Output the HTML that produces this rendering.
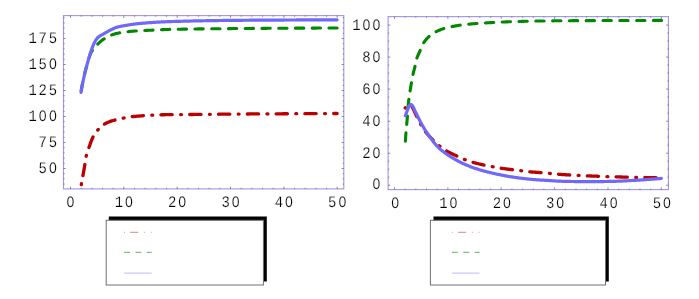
<!DOCTYPE html>
<html><head><meta charset="utf-8"><style>
html,body{margin:0;padding:0;background:#fff;}
body{width:699px;height:299px;overflow:hidden;}
svg{display:block;}
text{font-family:"Liberation Mono",monospace;font-size:16px;fill:#000;stroke:#fff;stroke-width:0.2px;paint-order:fill stroke;}
.lbl{filter:grayscale(1);text-rendering:geometricPrecision;}
</style></head><body>
<svg width="699" height="299" viewBox="0 0 699 299">
<rect width="699" height="299" fill="#fff"/>
<path d="M81.30,184.60 L81.43,183.86 L81.57,183.12 L81.70,182.38 L81.83,181.64 L81.97,180.89 L82.10,180.15 L82.23,179.41 L82.37,178.67 L82.50,177.93 L82.63,177.19 L82.76,176.45 L82.90,175.71 L83.03,174.97 L83.16,174.22 L83.30,173.48 L83.43,172.74 L83.57,172.00 L83.70,171.26 L83.84,170.52 L83.97,169.78 L84.10,169.04 L84.24,168.30 L84.37,167.56 L84.50,166.81 L84.63,166.07 L84.76,165.33 L84.88,164.59 L85.01,163.85 L85.13,163.10 L85.25,162.36 L85.36,161.61 L85.47,160.86 L85.57,160.12 L85.68,159.37 L85.79,158.62 L85.90,157.88 L86.02,157.14 L86.16,156.40 L86.31,155.67 L86.48,154.94 L86.66,154.21 L86.87,153.49 L87.10,152.77 L87.33,152.05 L87.58,151.34 L87.83,150.63 L88.09,149.91 L88.34,149.20 L88.60,148.49 L88.85,147.78 L89.09,147.07 L89.34,146.36 L89.59,145.64 L89.84,144.92 L90.10,144.21 L90.35,143.49 L90.61,142.78 L90.88,142.07 L91.15,141.36 L91.43,140.65 L91.71,139.96 L92.00,139.26 L92.30,138.58 L92.61,137.90 L92.93,137.22 L93.26,136.56 L93.60,135.91 L93.97,135.26 L94.35,134.61 L94.76,133.97 L95.18,133.34 L95.62,132.72 L96.08,132.10 L96.54,131.50 L97.01,130.91 L97.49,130.34 L97.98,129.78 L98.48,129.22 L99.00,128.67 L99.53,128.12 L100.07,127.58 L100.62,127.05 L101.19,126.54 L101.77,126.04 L102.35,125.57 L102.95,125.12 L103.55,124.70 L104.17,124.30 L104.81,123.91 L105.46,123.54 L106.13,123.19 L106.81,122.85 L107.51,122.52 L108.20,122.21 L108.90,121.92 L109.61,121.65 L110.31,121.39 L111.01,121.15 L111.73,120.92 L112.45,120.71 L113.18,120.50 L113.91,120.30 L114.64,120.11 L115.37,119.93 L116.11,119.75 L116.84,119.57 L117.57,119.39 L118.30,119.22 L119.03,119.05 L119.77,118.89 L120.51,118.73 L121.24,118.58 L121.98,118.42 L122.72,118.28 L123.46,118.13 L124.20,117.98 L124.94,117.83 L125.67,117.68 L126.41,117.53 L127.15,117.39 L127.90,117.25 L128.64,117.13 L129.38,117.01 L130.13,116.91 L130.87,116.82 L131.62,116.73 L132.36,116.65 L133.11,116.57 L133.86,116.50 L134.61,116.43 L135.36,116.36 L136.11,116.29 L136.86,116.23 L137.61,116.17 L138.36,116.11 L139.12,116.05 L139.87,115.99 L140.62,115.94 L141.37,115.88 L142.12,115.82 L142.87,115.77 L143.62,115.71 L144.38,115.66 L145.13,115.60 L145.88,115.55 L146.63,115.49 L147.38,115.44 L148.13,115.39 L148.88,115.34 L149.63,115.30 L150.39,115.25 L151.14,115.21 L151.89,115.17 L152.64,115.12 L153.39,115.08 L154.14,115.04 L154.90,115.00 L155.65,114.96 L156.40,114.92 L157.15,114.89 L157.91,114.86 L158.66,114.83 L159.41,114.81 L160.16,114.80 L160.92,114.78 L161.67,114.77 L162.42,114.76 L163.17,114.75 L163.93,114.74 L164.68,114.73 L165.43,114.72 L166.18,114.72 L166.94,114.71 L167.69,114.70 L168.44,114.70 L169.20,114.69 L169.95,114.68 L170.70,114.68 L171.46,114.67 L172.21,114.67 L172.96,114.66 L173.71,114.66 L174.47,114.65 L175.22,114.65 L175.97,114.64 L176.73,114.64 L177.48,114.63 L178.23,114.62 L178.99,114.62 L179.74,114.61 L180.49,114.60 L181.24,114.60 L182.00,114.59 L182.75,114.58 L183.50,114.58 L184.26,114.57 L185.01,114.56 L185.76,114.55 L186.52,114.55 L187.27,114.54 L188.02,114.53 L188.77,114.52 L189.53,114.52 L190.28,114.51 L191.03,114.50 L191.79,114.49 L192.54,114.49 L193.29,114.48 L194.04,114.47 L194.80,114.46 L195.55,114.46 L196.30,114.45 L197.06,114.44 L197.81,114.43 L198.56,114.43 L199.31,114.42 L200.07,114.41 L200.82,114.40 L201.57,114.40 L202.33,114.39 L203.08,114.38 L203.83,114.37 L204.58,114.36 L205.34,114.36 L206.09,114.35 L206.84,114.34 L207.60,114.33 L208.35,114.33 L209.10,114.32 L209.86,114.31 L210.61,114.30 L211.36,114.30 L212.11,114.29 L212.87,114.28 L213.62,114.27 L214.37,114.27 L215.13,114.26 L215.88,114.25 L216.63,114.24 L217.38,114.24 L218.14,114.23 L218.89,114.22 L219.64,114.22 L220.40,114.21 L221.15,114.20 L221.90,114.19 L222.65,114.19 L223.41,114.18 L224.16,114.17 L224.91,114.17 L225.67,114.16 L226.42,114.15 L227.17,114.15 L227.93,114.14 L228.68,114.13 L229.43,114.13 L230.18,114.12 L230.94,114.11 L231.69,114.11 L232.44,114.10 L233.20,114.10 L233.95,114.09 L234.70,114.08 L235.45,114.08 L236.21,114.07 L236.96,114.07 L237.71,114.06 L238.47,114.05 L239.22,114.05 L239.97,114.04 L240.72,114.04 L241.48,114.03 L242.23,114.03 L242.98,114.02 L243.74,114.02 L244.49,114.01 L245.24,114.00 L246.00,114.00 L246.75,113.99 L247.50,113.99 L248.25,113.98 L249.01,113.98 L249.76,113.97 L250.51,113.97 L251.27,113.96 L252.02,113.96 L252.77,113.95 L253.52,113.95 L254.28,113.94 L255.03,113.94 L255.78,113.93 L256.54,113.93 L257.29,113.92 L258.04,113.92 L258.79,113.91 L259.55,113.91 L260.30,113.90 L261.05,113.90 L261.81,113.90 L262.56,113.89 L263.31,113.89 L264.07,113.88 L264.82,113.88 L265.57,113.87 L266.32,113.87 L267.08,113.86 L267.83,113.86 L268.58,113.85 L269.34,113.85 L270.09,113.84 L270.84,113.84 L271.59,113.84 L272.35,113.83 L273.10,113.83 L273.85,113.82 L274.61,113.82 L275.36,113.81 L276.11,113.81 L276.87,113.81 L277.62,113.80 L278.37,113.80 L279.12,113.79 L279.88,113.79 L280.63,113.78 L281.38,113.78 L282.14,113.78 L282.89,113.77 L283.64,113.77 L284.39,113.76 L285.15,113.76 L285.90,113.75 L286.65,113.75 L287.41,113.75 L288.16,113.74 L288.91,113.74 L289.67,113.73 L290.42,113.73 L291.17,113.73 L291.92,113.72 L292.68,113.72 L293.43,113.71 L294.18,113.71 L294.94,113.71 L295.69,113.70 L296.44,113.70 L297.19,113.69 L297.95,113.69 L298.70,113.69 L299.45,113.68 L300.21,113.68 L300.96,113.67 L301.71,113.67 L302.46,113.67 L303.22,113.66 L303.97,113.66 L304.72,113.65 L305.48,113.65 L306.23,113.65 L306.98,113.64 L307.74,113.64 L308.49,113.63 L309.24,113.63 L309.99,113.63 L310.75,113.62 L311.50,113.62 L312.25,113.62 L313.01,113.61 L313.76,113.61 L314.51,113.60 L315.26,113.60 L316.02,113.60 L316.77,113.59 L317.52,113.59 L318.28,113.59 L319.03,113.58 L319.78,113.58 L320.54,113.58 L321.29,113.57 L322.04,113.57 L322.79,113.56 L323.55,113.56 L324.30,113.56 L325.05,113.55 L325.81,113.55 L326.56,113.55 L327.31,113.54 L328.06,113.54 L328.82,113.54 L329.57,113.53 L330.32,113.53 L331.08,113.53 L331.83,113.52 L332.58,113.52 L333.34,113.52 L334.09,113.51 L334.84,113.51 L335.59,113.51 L336.35,113.50 L337.10,113.50" fill="none" stroke="#bb0000" stroke-width="3.3" stroke-linecap="round" stroke-linejoin="round" stroke-dasharray="0.9 8.2 11.3 8.4" stroke-dashoffset="0"/>
<path d="M80.80,93.00 L80.91,92.27 L81.03,91.54 L81.14,90.80 L81.26,90.07 L81.39,89.34 L81.51,88.61 L81.64,87.88 L81.77,87.15 L81.90,86.43 L82.04,85.70 L82.18,84.97 L82.32,84.24 L82.46,83.52 L82.60,82.79 L82.75,82.07 L82.90,81.34 L83.05,80.62 L83.20,79.90 L83.35,79.17 L83.51,78.45 L83.67,77.73 L83.83,77.01 L84.00,76.29 L84.17,75.57 L84.34,74.85 L84.52,74.13 L84.70,73.41 L84.88,72.70 L85.06,71.98 L85.25,71.26 L85.44,70.55 L85.63,69.83 L85.83,69.12 L86.02,68.40 L86.22,67.69 L86.42,66.98 L86.62,66.26 L86.82,65.55 L87.03,64.84 L87.23,64.13 L87.44,63.42 L87.64,62.71 L87.84,61.99 L88.04,61.28 L88.24,60.56 L88.45,59.84 L88.65,59.12 L88.86,58.40 L89.07,57.69 L89.30,56.98 L89.53,56.28 L89.77,55.58 L90.03,54.89 L90.30,54.22 L90.58,53.55 L90.89,52.89 L91.25,52.24 L91.63,51.60 L92.04,50.97 L92.46,50.36 L92.87,49.75 L93.30,49.15 L93.75,48.56 L94.20,47.97 L94.67,47.39 L95.15,46.82 L95.64,46.26 L96.13,45.71 L96.64,45.17 L97.15,44.65 L97.67,44.12 L98.20,43.60 L98.73,43.09 L99.28,42.58 L99.84,42.08 L100.40,41.59 L100.98,41.11 L101.56,40.65 L102.14,40.20 L102.73,39.76 L103.33,39.35 L103.94,38.94 L104.56,38.54 L105.19,38.14 L105.82,37.75 L106.47,37.37 L107.12,37.00 L107.78,36.65 L108.45,36.31 L109.12,35.99 L109.79,35.69 L110.47,35.40 L111.15,35.15 L111.84,34.90 L112.53,34.66 L113.23,34.43 L113.94,34.21 L114.65,34.00 L115.37,33.80 L116.09,33.60 L116.81,33.42 L117.54,33.25 L118.26,33.08 L118.99,32.93 L119.72,32.79 L120.44,32.66 L121.17,32.54 L121.90,32.42 L122.63,32.32 L123.37,32.22 L124.10,32.12 L124.84,32.03 L125.57,31.95 L126.31,31.87 L127.04,31.78 L127.78,31.70 L128.52,31.63 L129.25,31.55 L129.99,31.48 L130.72,31.40 L131.46,31.33 L132.20,31.27 L132.94,31.20 L133.67,31.14 L134.41,31.08 L135.15,31.02 L135.89,30.97 L136.63,30.92 L137.36,30.87 L138.10,30.83 L138.84,30.78 L139.58,30.74 L140.32,30.70 L141.06,30.66 L141.79,30.62 L142.53,30.59 L143.27,30.55 L144.01,30.52 L144.75,30.48 L145.49,30.45 L146.23,30.42 L146.97,30.39 L147.71,30.35 L148.45,30.32 L149.19,30.29 L149.93,30.26 L150.67,30.23 L151.41,30.20 L152.14,30.16 L152.88,30.13 L153.62,30.10 L154.36,30.07 L155.10,30.03 L155.84,30.00 L156.58,29.96 L157.32,29.92 L158.06,29.89 L158.80,29.85 L159.54,29.81 L160.28,29.78 L161.01,29.74 L161.75,29.71 L162.49,29.67 L163.23,29.64 L163.97,29.61 L164.71,29.57 L165.45,29.54 L166.19,29.52 L166.93,29.49 L167.67,29.46 L168.41,29.44 L169.15,29.42 L169.89,29.40 L170.63,29.39 L171.37,29.37 L172.10,29.35 L172.84,29.34 L173.58,29.32 L174.32,29.31 L175.06,29.29 L175.80,29.28 L176.54,29.26 L177.28,29.25 L178.02,29.23 L178.76,29.22 L179.50,29.20 L180.24,29.19 L180.98,29.18 L181.72,29.16 L182.46,29.15 L183.20,29.14 L183.94,29.12 L184.68,29.11 L185.42,29.10 L186.16,29.09 L186.90,29.08 L187.64,29.06 L188.38,29.05 L189.12,29.04 L189.86,29.03 L190.60,29.02 L191.34,29.01 L192.08,29.00 L192.82,28.99 L193.56,28.98 L194.30,28.97 L195.04,28.96 L195.78,28.95 L196.52,28.94 L197.26,28.93 L198.00,28.92 L198.74,28.91 L199.48,28.90 L200.22,28.89 L200.96,28.88 L201.70,28.87 L202.44,28.86 L203.18,28.85 L203.92,28.84 L204.66,28.84 L205.40,28.83 L206.14,28.82 L206.88,28.81 L207.62,28.80 L208.36,28.80 L209.10,28.79 L209.84,28.78 L210.58,28.77 L211.32,28.76 L212.06,28.76 L212.80,28.75 L213.54,28.74 L214.28,28.74 L215.02,28.73 L215.76,28.72 L216.50,28.71 L217.24,28.71 L217.98,28.70 L218.72,28.69 L219.46,28.69 L220.20,28.68 L220.94,28.67 L221.68,28.67 L222.42,28.66 L223.15,28.65 L223.89,28.65 L224.63,28.64 L225.37,28.63 L226.11,28.63 L226.85,28.62 L227.59,28.61 L228.33,28.61 L229.07,28.60 L229.81,28.59 L230.55,28.59 L231.29,28.58 L232.03,28.57 L232.77,28.57 L233.51,28.56 L234.25,28.55 L234.99,28.55 L235.73,28.54 L236.47,28.54 L237.21,28.53 L237.95,28.52 L238.69,28.52 L239.43,28.51 L240.17,28.51 L240.91,28.50 L241.65,28.50 L242.39,28.49 L243.13,28.48 L243.87,28.48 L244.61,28.47 L245.35,28.47 L246.09,28.46 L246.83,28.46 L247.57,28.45 L248.31,28.45 L249.05,28.44 L249.79,28.44 L250.53,28.43 L251.27,28.43 L252.01,28.42 L252.75,28.42 L253.49,28.41 L254.23,28.41 L254.97,28.40 L255.71,28.40 L256.45,28.39 L257.19,28.39 L257.93,28.38 L258.67,28.38 L259.41,28.37 L260.15,28.37 L260.89,28.36 L261.63,28.36 L262.37,28.35 L263.11,28.35 L263.85,28.34 L264.59,28.34 L265.33,28.34 L266.07,28.33 L266.81,28.33 L267.55,28.32 L268.29,28.32 L269.03,28.31 L269.77,28.31 L270.51,28.30 L271.25,28.30 L271.99,28.30 L272.73,28.29 L273.47,28.29 L274.21,28.28 L274.95,28.28 L275.69,28.28 L276.43,28.27 L277.17,28.27 L277.91,28.26 L278.65,28.26 L279.39,28.26 L280.13,28.25 L280.87,28.25 L281.61,28.24 L282.35,28.24 L283.09,28.24 L283.83,28.23 L284.57,28.23 L285.31,28.22 L286.05,28.22 L286.79,28.22 L287.53,28.21 L288.27,28.21 L289.01,28.21 L289.75,28.20 L290.49,28.20 L291.23,28.19 L291.97,28.19 L292.71,28.19 L293.45,28.18 L294.19,28.18 L294.93,28.18 L295.67,28.17 L296.41,28.17 L297.14,28.16 L297.88,28.16 L298.62,28.16 L299.36,28.15 L300.10,28.15 L300.84,28.15 L301.58,28.14 L302.32,28.14 L303.06,28.14 L303.80,28.13 L304.54,28.13 L305.28,28.13 L306.02,28.12 L306.76,28.12 L307.50,28.12 L308.24,28.11 L308.98,28.11 L309.72,28.11 L310.46,28.10 L311.20,28.10 L311.94,28.10 L312.68,28.09 L313.42,28.09 L314.16,28.09 L314.90,28.08 L315.64,28.08 L316.38,28.08 L317.12,28.07 L317.86,28.07 L318.60,28.07 L319.34,28.06 L320.08,28.06 L320.82,28.06 L321.56,28.06 L322.30,28.05 L323.04,28.05 L323.78,28.05 L324.52,28.04 L325.26,28.04 L326.00,28.04 L326.74,28.04 L327.48,28.03 L328.22,28.03 L328.96,28.03 L329.70,28.03 L330.44,28.02 L331.18,28.02 L331.92,28.02 L332.66,28.01 L333.40,28.01 L334.14,28.01 L334.88,28.01 L335.62,28.00 L336.36,28.00 L337.10,28.00" fill="none" stroke="#008800" stroke-width="3.1" stroke-linecap="round" stroke-linejoin="round" stroke-dasharray="8.3 8.45" stroke-dashoffset="-2.4"/>
<path d="M81.05,92.30 L81.17,91.56 L81.29,90.81 L81.42,90.07 L81.54,89.33 L81.67,88.59 L81.81,87.85 L81.94,87.11 L82.08,86.37 L82.21,85.63 L82.35,84.89 L82.50,84.15 L82.64,83.41 L82.79,82.68 L82.93,81.94 L83.08,81.20 L83.24,80.47 L83.39,79.73 L83.54,79.00 L83.70,78.26 L83.86,77.53 L84.02,76.79 L84.19,76.06 L84.35,75.33 L84.52,74.60 L84.70,73.87 L84.87,73.13 L85.05,72.40 L85.23,71.67 L85.41,70.94 L85.60,70.21 L85.78,69.49 L85.97,68.76 L86.16,68.03 L86.35,67.30 L86.55,66.57 L86.74,65.85 L86.94,65.12 L87.14,64.40 L87.33,63.67 L87.53,62.95 L87.73,62.22 L87.93,61.50 L88.13,60.77 L88.33,60.05 L88.54,59.32 L88.74,58.60 L88.95,57.87 L89.15,57.15 L89.37,56.42 L89.58,55.70 L89.80,54.98 L90.02,54.26 L90.24,53.54 L90.47,52.83 L90.71,52.12 L90.95,51.40 L91.19,50.70 L91.44,49.99 L91.69,49.28 L91.95,48.57 L92.21,47.86 L92.48,47.15 L92.76,46.45 L93.04,45.74 L93.33,45.04 L93.63,44.35 L93.94,43.66 L94.27,42.99 L94.60,42.32 L94.95,41.67 L95.31,41.02 L95.70,40.37 L96.12,39.73 L96.56,39.09 L97.02,38.48 L97.51,37.91 L98.01,37.38 L98.54,36.90 L99.12,36.46 L99.74,36.05 L100.39,35.66 L101.06,35.29 L101.74,34.92 L102.42,34.56 L103.09,34.19 L103.74,33.82 L104.39,33.44 L105.04,33.05 L105.69,32.67 L106.34,32.29 L106.99,31.91 L107.64,31.54 L108.30,31.17 L108.96,30.80 L109.62,30.45 L110.29,30.10 L110.96,29.76 L111.63,29.44 L112.31,29.11 L112.99,28.79 L113.68,28.47 L114.37,28.17 L115.07,27.88 L115.77,27.61 L116.48,27.36 L117.19,27.15 L117.91,26.95 L118.64,26.77 L119.37,26.60 L120.11,26.44 L120.85,26.29 L121.59,26.15 L122.33,26.01 L123.07,25.88 L123.81,25.74 L124.55,25.61 L125.29,25.48 L126.03,25.35 L126.77,25.23 L127.52,25.11 L128.26,24.98 L129.00,24.87 L129.74,24.75 L130.49,24.64 L131.23,24.53 L131.98,24.42 L132.72,24.32 L133.47,24.21 L134.21,24.12 L134.96,24.02 L135.71,23.93 L136.45,23.85 L137.20,23.77 L137.95,23.69 L138.69,23.61 L139.44,23.53 L140.19,23.46 L140.94,23.39 L141.68,23.32 L142.43,23.25 L143.18,23.18 L143.93,23.11 L144.68,23.05 L145.43,22.99 L146.18,22.93 L146.93,22.87 L147.68,22.81 L148.43,22.75 L149.18,22.70 L149.93,22.64 L150.68,22.59 L151.43,22.54 L152.18,22.49 L152.93,22.44 L153.68,22.39 L154.43,22.35 L155.18,22.30 L155.93,22.26 L156.68,22.22 L157.43,22.17 L158.19,22.13 L158.94,22.09 L159.69,22.05 L160.44,22.01 L161.19,21.97 L161.94,21.93 L162.69,21.89 L163.44,21.86 L164.19,21.82 L164.95,21.79 L165.70,21.76 L166.45,21.73 L167.20,21.70 L167.95,21.67 L168.70,21.64 L169.45,21.62 L170.20,21.59 L170.96,21.57 L171.71,21.55 L172.46,21.52 L173.21,21.50 L173.96,21.48 L174.71,21.46 L175.46,21.44 L176.21,21.41 L176.97,21.39 L177.72,21.37 L178.47,21.35 L179.22,21.33 L179.97,21.31 L180.72,21.29 L181.47,21.27 L182.23,21.25 L182.98,21.23 L183.73,21.21 L184.48,21.19 L185.23,21.17 L185.98,21.15 L186.74,21.13 L187.49,21.11 L188.24,21.09 L188.99,21.08 L189.74,21.06 L190.49,21.04 L191.25,21.02 L192.00,21.01 L192.75,20.99 L193.50,20.97 L194.25,20.96 L195.00,20.94 L195.76,20.92 L196.51,20.91 L197.26,20.89 L198.01,20.87 L198.76,20.86 L199.52,20.84 L200.27,20.83 L201.02,20.81 L201.77,20.80 L202.52,20.78 L203.27,20.77 L204.03,20.76 L204.78,20.74 L205.53,20.73 L206.28,20.71 L207.03,20.70 L207.78,20.69 L208.54,20.68 L209.29,20.66 L210.04,20.65 L210.79,20.64 L211.54,20.63 L212.30,20.61 L213.05,20.60 L213.80,20.59 L214.55,20.58 L215.30,20.57 L216.06,20.56 L216.81,20.55 L217.56,20.54 L218.31,20.53 L219.06,20.52 L219.81,20.51 L220.57,20.50 L221.32,20.49 L222.07,20.48 L222.82,20.47 L223.57,20.46 L224.33,20.45 L225.08,20.44 L225.83,20.43 L226.58,20.43 L227.33,20.42 L228.08,20.41 L228.84,20.40 L229.59,20.39 L230.34,20.39 L231.09,20.38 L231.84,20.37 L232.59,20.37 L233.35,20.36 L234.10,20.35 L234.85,20.34 L235.60,20.34 L236.35,20.33 L237.11,20.32 L237.86,20.32 L238.61,20.31 L239.36,20.30 L240.11,20.30 L240.86,20.29 L241.62,20.29 L242.37,20.28 L243.12,20.27 L243.87,20.27 L244.62,20.26 L245.38,20.26 L246.13,20.25 L246.88,20.24 L247.63,20.24 L248.38,20.23 L249.13,20.23 L249.89,20.22 L250.64,20.22 L251.39,20.21 L252.14,20.21 L252.89,20.20 L253.65,20.19 L254.40,20.19 L255.15,20.18 L255.90,20.18 L256.65,20.17 L257.40,20.17 L258.16,20.16 L258.91,20.16 L259.66,20.16 L260.41,20.15 L261.16,20.15 L261.92,20.14 L262.67,20.14 L263.42,20.13 L264.17,20.13 L264.92,20.12 L265.67,20.12 L266.43,20.11 L267.18,20.11 L267.93,20.11 L268.68,20.10 L269.43,20.10 L270.19,20.09 L270.94,20.09 L271.69,20.09 L272.44,20.08 L273.19,20.08 L273.95,20.07 L274.70,20.07 L275.45,20.07 L276.20,20.06 L276.95,20.06 L277.70,20.06 L278.46,20.05 L279.21,20.05 L279.96,20.04 L280.71,20.04 L281.46,20.04 L282.22,20.03 L282.97,20.03 L283.72,20.03 L284.47,20.02 L285.22,20.02 L285.97,20.02 L286.73,20.01 L287.48,20.01 L288.23,20.01 L288.98,20.00 L289.73,20.00 L290.49,20.00 L291.24,19.99 L291.99,19.99 L292.74,19.99 L293.49,19.99 L294.25,19.98 L295.00,19.98 L295.75,19.98 L296.50,19.97 L297.25,19.97 L298.00,19.97 L298.76,19.96 L299.51,19.96 L300.26,19.96 L301.01,19.96 L301.76,19.95 L302.52,19.95 L303.27,19.95 L304.02,19.94 L304.77,19.94 L305.52,19.94 L306.27,19.94 L307.03,19.93 L307.78,19.93 L308.53,19.93 L309.28,19.92 L310.03,19.92 L310.79,19.92 L311.54,19.92 L312.29,19.91 L313.04,19.91 L313.79,19.91 L314.54,19.91 L315.30,19.90 L316.05,19.90 L316.80,19.90 L317.55,19.90 L318.30,19.90 L319.06,19.89 L319.81,19.89 L320.56,19.89 L321.31,19.89 L322.06,19.88 L322.81,19.88 L323.57,19.88 L324.32,19.88 L325.07,19.88 L325.82,19.87 L326.57,19.87 L327.33,19.87 L328.08,19.87 L328.83,19.87 L329.58,19.87 L330.33,19.86 L331.09,19.86 L331.84,19.86 L332.59,19.86 L333.34,19.86 L334.09,19.86 L334.84,19.85 L335.60,19.85 L336.35,19.85 L337.10,19.85" fill="none" stroke="#7068f8" stroke-width="3.2" stroke-linecap="round" stroke-linejoin="round"/>
<path d="M405.20,108.00 L405.65,107.35 L406.15,106.77 L406.68,106.27 L407.24,105.86 L407.83,105.56 L408.48,105.35 L409.23,105.17 L409.96,105.04 L410.58,105.00 L411.09,105.27 L411.55,105.84 L411.98,106.56 L412.37,107.27 L412.73,107.88 L413.07,108.50 L413.38,109.13 L413.68,109.78 L413.97,110.44 L414.25,111.10 L414.54,111.76 L414.83,112.41 L415.13,113.06 L415.43,113.70 L415.74,114.34 L416.04,114.99 L416.35,115.63 L416.65,116.28 L416.95,116.92 L417.26,117.57 L417.56,118.21 L417.87,118.85 L418.18,119.49 L418.50,120.13 L418.81,120.77 L419.14,121.40 L419.47,122.03 L419.80,122.65 L420.14,123.27 L420.49,123.89 L420.84,124.51 L421.19,125.13 L421.55,125.75 L421.92,126.36 L422.29,126.98 L422.66,127.58 L423.04,128.19 L423.43,128.79 L423.82,129.38 L424.22,129.97 L424.63,130.55 L425.04,131.12 L425.46,131.69 L425.90,132.25 L426.34,132.80 L426.79,133.35 L427.25,133.89 L427.72,134.43 L428.19,134.97 L428.67,135.50 L429.15,136.03 L429.64,136.55 L430.13,137.07 L430.61,137.59 L431.10,138.10 L431.59,138.62 L432.09,139.13 L432.58,139.64 L433.08,140.15 L433.59,140.65 L434.09,141.15 L434.60,141.65 L435.12,142.15 L435.64,142.64 L436.16,143.12 L436.68,143.60 L437.21,144.08 L437.75,144.54 L438.29,145.00 L438.83,145.46 L439.38,145.91 L439.93,146.36 L440.49,146.81 L441.05,147.25 L441.62,147.69 L442.19,148.12 L442.77,148.54 L443.35,148.95 L443.94,149.35 L444.53,149.74 L445.12,150.11 L445.73,150.48 L446.33,150.84 L446.95,151.19 L447.57,151.53 L448.20,151.86 L448.83,152.19 L449.46,152.52 L450.10,152.84 L450.74,153.15 L451.38,153.46 L452.03,153.77 L452.67,154.08 L453.32,154.39 L453.97,154.69 L454.61,154.99 L455.26,155.30 L455.90,155.60 L456.54,155.91 L457.18,156.22 L457.83,156.53 L458.47,156.83 L459.11,157.14 L459.76,157.44 L460.40,157.74 L461.05,158.04 L461.70,158.33 L462.35,158.61 L463.01,158.89 L463.66,159.17 L464.32,159.43 L464.98,159.69 L465.65,159.94 L466.31,160.19 L466.98,160.43 L467.65,160.67 L468.33,160.90 L469.00,161.13 L469.68,161.35 L470.36,161.57 L471.04,161.78 L471.72,161.99 L472.40,162.19 L473.08,162.38 L473.76,162.57 L474.45,162.76 L475.14,162.95 L475.83,163.13 L476.51,163.31 L477.20,163.48 L477.90,163.65 L478.59,163.82 L479.28,163.99 L479.97,164.15 L480.67,164.32 L481.36,164.47 L482.06,164.63 L482.75,164.79 L483.45,164.94 L484.14,165.09 L484.84,165.23 L485.53,165.38 L486.23,165.52 L486.93,165.65 L487.63,165.78 L488.33,165.91 L489.03,166.04 L489.73,166.17 L490.43,166.30 L491.13,166.43 L491.83,166.56 L492.53,166.69 L493.23,166.82 L493.92,166.95 L494.62,167.09 L495.32,167.22 L496.02,167.36 L496.72,167.49 L497.42,167.62 L498.12,167.75 L498.82,167.87 L499.52,167.99 L500.22,168.10 L500.92,168.21 L501.63,168.32 L502.33,168.42 L503.04,168.52 L503.74,168.62 L504.45,168.71 L505.15,168.80 L505.86,168.90 L506.56,168.99 L507.27,169.08 L507.97,169.16 L508.68,169.25 L509.39,169.34 L510.09,169.43 L510.80,169.51 L511.51,169.60 L512.21,169.69 L512.92,169.78 L513.62,169.86 L514.33,169.95 L515.04,170.03 L515.74,170.11 L516.45,170.20 L517.16,170.28 L517.86,170.36 L518.57,170.45 L519.28,170.53 L519.98,170.61 L520.69,170.70 L521.39,170.79 L522.10,170.88 L522.81,170.97 L523.51,171.07 L524.22,171.16 L524.92,171.25 L525.63,171.34 L526.33,171.43 L527.04,171.52 L527.75,171.60 L528.45,171.68 L529.16,171.74 L529.87,171.81 L530.58,171.87 L531.29,171.93 L531.99,171.99 L532.70,172.05 L533.41,172.10 L534.12,172.16 L534.83,172.21 L535.54,172.26 L536.25,172.31 L536.96,172.36 L537.67,172.41 L538.38,172.47 L539.09,172.52 L539.80,172.57 L540.51,172.63 L541.22,172.69 L541.93,172.74 L542.64,172.80 L543.35,172.86 L544.05,172.92 L544.76,172.99 L545.47,173.05 L546.18,173.11 L546.89,173.17 L547.60,173.24 L548.31,173.30 L549.01,173.36 L549.72,173.43 L550.43,173.50 L551.14,173.57 L551.85,173.64 L552.55,173.72 L553.26,173.79 L553.97,173.86 L554.68,173.93 L555.39,174.00 L556.09,174.07 L556.80,174.13 L557.51,174.19 L558.22,174.25 L558.93,174.30 L559.64,174.35 L560.35,174.41 L561.06,174.46 L561.77,174.50 L562.48,174.55 L563.19,174.60 L563.90,174.64 L564.61,174.69 L565.32,174.73 L566.03,174.77 L566.74,174.81 L567.45,174.86 L568.16,174.90 L568.87,174.94 L569.58,174.98 L570.29,175.02 L571.00,175.05 L571.71,175.09 L572.42,175.13 L573.13,175.16 L573.84,175.20 L574.55,175.23 L575.26,175.26 L575.97,175.30 L576.69,175.33 L577.40,175.37 L578.11,175.40 L578.82,175.44 L579.53,175.47 L580.24,175.51 L580.95,175.55 L581.66,175.58 L582.37,175.62 L583.08,175.66 L583.79,175.69 L584.50,175.73 L585.21,175.76 L585.92,175.79 L586.63,175.82 L587.34,175.85 L588.05,175.88 L588.77,175.91 L589.48,175.94 L590.19,175.97 L590.90,176.00 L591.61,176.02 L592.32,176.05 L593.03,176.08 L593.74,176.10 L594.45,176.13 L595.16,176.15 L595.87,176.18 L596.59,176.21 L597.30,176.23 L598.01,176.26 L598.72,176.29 L599.43,176.31 L600.14,176.34 L600.85,176.37 L601.56,176.40 L602.27,176.43 L602.98,176.45 L603.69,176.48 L604.41,176.51 L605.12,176.53 L605.83,176.56 L606.54,176.58 L607.25,176.60 L607.96,176.62 L608.67,176.64 L609.38,176.66 L610.09,176.68 L610.80,176.70 L611.52,176.71 L612.23,176.73 L612.94,176.74 L613.65,176.76 L614.36,176.78 L615.07,176.80 L615.78,176.82 L616.49,176.84 L617.21,176.86 L617.92,176.88 L618.63,176.91 L619.34,176.93 L620.05,176.95 L620.76,176.98 L621.47,177.00 L622.18,177.03 L622.89,177.05 L623.60,177.07 L624.32,177.10 L625.03,177.12 L625.74,177.14 L626.45,177.16 L627.16,177.18 L627.87,177.20 L628.58,177.22 L629.29,177.24 L630.00,177.26 L630.72,177.28 L631.43,177.30 L632.14,177.32 L632.85,177.34 L633.56,177.36 L634.27,177.37 L634.98,177.39 L635.69,177.40 L636.41,177.41 L637.12,177.42 L637.83,177.43 L638.54,177.44 L639.25,177.45 L639.96,177.45 L640.67,177.46 L641.39,177.47 L642.10,177.48 L642.81,177.49 L643.52,177.50 L644.23,177.51 L644.94,177.52 L645.65,177.53 L646.36,177.55 L647.08,177.56 L647.79,177.58 L648.50,177.59 L649.21,177.61 L649.92,177.62 L650.63,177.64 L651.34,177.66 L652.05,177.68 L652.77,177.69 L653.48,177.71 L654.19,177.73 L654.90,177.74 L655.61,177.76 L656.32,177.78 L657.03,177.80 L657.74,177.81 L658.46,177.83 L659.17,177.85 L659.88,177.86 L660.59,177.88 L661.30,177.90" fill="none" stroke="#bb0000" stroke-width="3.3" stroke-linecap="round" stroke-linejoin="round" stroke-dasharray="0.9 8.2 11.3 8.4" stroke-dashoffset="0.7"/>
<path d="M405.30,142.50 L405.35,141.64 L405.40,140.77 L405.45,139.91 L405.51,139.04 L405.56,138.18 L405.62,137.32 L405.68,136.45 L405.74,135.59 L405.80,134.72 L405.86,133.86 L405.92,133.00 L405.99,132.13 L406.06,131.27 L406.13,130.41 L406.21,129.55 L406.28,128.69 L406.37,127.82 L406.45,126.96 L406.54,126.10 L406.62,125.24 L406.71,124.38 L406.79,123.52 L406.88,122.65 L406.96,121.79 L407.04,120.93 L407.12,120.07 L407.20,119.21 L407.27,118.34 L407.34,117.48 L407.40,116.62 L407.47,115.75 L407.52,114.89 L407.58,114.03 L407.63,113.16 L407.69,112.30 L407.74,111.43 L407.80,110.57 L407.85,109.70 L407.91,108.84 L407.97,107.98 L408.04,107.11 L408.11,106.25 L408.18,105.39 L408.26,104.53 L408.35,103.67 L408.44,102.81 L408.54,101.95 L408.64,101.09 L408.75,100.23 L408.86,99.37 L408.98,98.51 L409.10,97.65 L409.22,96.80 L409.34,95.94 L409.46,95.08 L409.59,94.22 L409.71,93.37 L409.84,92.51 L409.97,91.66 L410.10,90.80 L410.23,89.95 L410.37,89.09 L410.51,88.24 L410.66,87.38 L410.80,86.53 L410.95,85.68 L411.10,84.82 L411.25,83.97 L411.39,83.12 L411.54,82.26 L411.68,81.41 L411.83,80.56 L411.97,79.70 L412.12,78.85 L412.26,77.99 L412.42,77.14 L412.58,76.29 L412.75,75.45 L412.94,74.60 L413.13,73.76 L413.33,72.92 L413.55,72.08 L413.76,71.24 L413.98,70.40 L414.20,69.56 L414.42,68.73 L414.64,67.89 L414.85,67.05 L415.05,66.20 L415.24,65.36 L415.43,64.51 L415.60,63.66 L415.77,62.81 L415.94,61.95 L416.12,61.11 L416.31,60.26 L416.52,59.43 L416.76,58.61 L417.02,57.79 L417.31,56.98 L417.63,56.18 L417.97,55.38 L418.32,54.59 L418.69,53.79 L419.05,53.00 L419.42,52.21 L419.78,51.42 L420.13,50.63 L420.47,49.83 L420.80,49.02 L421.13,48.21 L421.45,47.39 L421.79,46.58 L422.13,45.78 L422.49,45.00 L422.87,44.23 L423.28,43.48 L423.71,42.76 L424.17,42.05 L424.67,41.34 L425.20,40.64 L425.75,39.96 L426.32,39.29 L426.91,38.63 L427.51,37.99 L428.13,37.37 L428.76,36.77 L429.39,36.20 L430.03,35.65 L430.70,35.11 L431.39,34.58 L432.10,34.07 L432.83,33.58 L433.57,33.11 L434.32,32.66 L435.07,32.23 L435.83,31.83 L436.59,31.45 L437.37,31.08 L438.16,30.71 L438.96,30.37 L439.76,30.03 L440.57,29.71 L441.39,29.41 L442.21,29.12 L443.03,28.84 L443.85,28.58 L444.68,28.34 L445.51,28.11 L446.35,27.90 L447.19,27.69 L448.04,27.50 L448.89,27.31 L449.73,27.12 L450.58,26.93 L451.43,26.75 L452.27,26.56 L453.12,26.38 L453.97,26.20 L454.82,26.02 L455.67,25.86 L456.52,25.71 L457.37,25.57 L458.23,25.45 L459.08,25.33 L459.94,25.21 L460.80,25.10 L461.65,24.99 L462.51,24.88 L463.37,24.77 L464.23,24.67 L465.09,24.58 L465.96,24.48 L466.82,24.39 L467.68,24.30 L468.54,24.21 L469.40,24.13 L470.27,24.05 L471.13,23.97 L471.99,23.89 L472.86,23.82 L473.72,23.75 L474.58,23.68 L475.44,23.61 L476.31,23.54 L477.17,23.48 L478.03,23.42 L478.90,23.35 L479.76,23.30 L480.62,23.24 L481.49,23.18 L482.35,23.13 L483.21,23.07 L484.08,23.02 L484.94,22.97 L485.81,22.92 L486.67,22.87 L487.54,22.82 L488.40,22.77 L489.27,22.72 L490.13,22.67 L490.99,22.63 L491.86,22.58 L492.72,22.53 L493.59,22.49 L494.45,22.44 L495.32,22.40 L496.18,22.35 L497.05,22.31 L497.91,22.26 L498.78,22.22 L499.64,22.18 L500.51,22.14 L501.37,22.10 L502.23,22.06 L503.10,22.02 L503.96,21.98 L504.83,21.94 L505.69,21.91 L506.56,21.88 L507.42,21.84 L508.29,21.81 L509.15,21.78 L510.02,21.76 L510.88,21.73 L511.75,21.70 L512.61,21.67 L513.48,21.64 L514.35,21.62 L515.21,21.59 L516.08,21.56 L516.94,21.54 L517.81,21.51 L518.67,21.48 L519.54,21.46 L520.40,21.43 L521.27,21.41 L522.13,21.39 L523.00,21.36 L523.86,21.34 L524.73,21.32 L525.59,21.29 L526.46,21.27 L527.33,21.25 L528.19,21.23 L529.06,21.21 L529.92,21.19 L530.79,21.17 L531.65,21.15 L532.52,21.13 L533.38,21.11 L534.25,21.09 L535.12,21.08 L535.98,21.06 L536.85,21.05 L537.71,21.03 L538.58,21.02 L539.44,21.00 L540.31,20.99 L541.17,20.98 L542.04,20.96 L542.91,20.95 L543.77,20.94 L544.64,20.93 L545.50,20.92 L546.37,20.91 L547.23,20.90 L548.10,20.89 L548.96,20.88 L549.83,20.87 L550.70,20.86 L551.56,20.85 L552.43,20.84 L553.29,20.83 L554.16,20.82 L555.02,20.81 L555.89,20.80 L556.75,20.79 L557.62,20.79 L558.49,20.78 L559.35,20.77 L560.22,20.76 L561.08,20.76 L561.95,20.75 L562.81,20.74 L563.68,20.73 L564.55,20.73 L565.41,20.72 L566.28,20.71 L567.14,20.71 L568.01,20.70 L568.87,20.70 L569.74,20.69 L570.61,20.69 L571.47,20.68 L572.34,20.67 L573.20,20.67 L574.07,20.67 L574.93,20.66 L575.80,20.66 L576.66,20.65 L577.53,20.65 L578.40,20.65 L579.26,20.64 L580.13,20.64 L580.99,20.63 L581.86,20.63 L582.72,20.63 L583.59,20.63 L584.46,20.62 L585.32,20.62 L586.19,20.62 L587.05,20.61 L587.92,20.61 L588.78,20.61 L589.65,20.61 L590.52,20.60 L591.38,20.60 L592.25,20.60 L593.11,20.60 L593.98,20.60 L594.84,20.59 L595.71,20.59 L596.58,20.59 L597.44,20.59 L598.31,20.58 L599.17,20.58 L600.04,20.58 L600.90,20.58 L601.77,20.58 L602.63,20.57 L603.50,20.57 L604.37,20.57 L605.23,20.57 L606.10,20.57 L606.96,20.56 L607.83,20.56 L608.69,20.56 L609.56,20.56 L610.43,20.55 L611.29,20.55 L612.16,20.55 L613.02,20.55 L613.89,20.54 L614.75,20.54 L615.62,20.54 L616.49,20.54 L617.35,20.53 L618.22,20.53 L619.08,20.53 L619.95,20.53 L620.81,20.52 L621.68,20.52 L622.55,20.52 L623.41,20.52 L624.28,20.51 L625.14,20.51 L626.01,20.51 L626.87,20.50 L627.74,20.50 L628.60,20.50 L629.47,20.50 L630.34,20.49 L631.20,20.49 L632.07,20.49 L632.93,20.49 L633.80,20.48 L634.66,20.48 L635.53,20.48 L636.40,20.48 L637.26,20.47 L638.13,20.47 L638.99,20.47 L639.86,20.47 L640.72,20.46 L641.59,20.46 L642.46,20.46 L643.32,20.46 L644.19,20.45 L645.05,20.45 L645.92,20.45 L646.78,20.44 L647.65,20.44 L648.52,20.44 L649.38,20.44 L650.25,20.43 L651.11,20.43 L651.98,20.43 L652.84,20.43 L653.71,20.42 L654.57,20.42 L655.44,20.42 L656.31,20.42 L657.17,20.41 L658.04,20.41 L658.90,20.41 L659.77,20.41 L660.63,20.40 L661.50,20.40" fill="none" stroke="#008800" stroke-width="3.1" stroke-linecap="round" stroke-linejoin="round" stroke-dasharray="8.3 8.5" stroke-dashoffset="-1.4"/>
<path d="M405.40,115.70 L405.64,115.00 L405.88,114.30 L406.13,113.61 L406.38,112.92 L406.64,112.23 L406.90,111.54 L407.17,110.85 L407.44,110.16 L407.70,109.47 L407.96,108.77 L408.22,108.06 L408.49,107.36 L408.80,106.69 L409.14,106.06 L409.54,105.44 L410.07,104.77 L410.63,104.41 L411.23,104.60 L411.86,105.12 L412.37,105.69 L412.79,106.24 L413.16,106.85 L413.50,107.50 L413.81,108.18 L414.12,108.88 L414.41,109.59 L414.72,110.29 L415.03,110.96 L415.36,111.62 L415.69,112.28 L416.02,112.95 L416.34,113.61 L416.67,114.27 L416.99,114.94 L417.31,115.60 L417.63,116.26 L417.95,116.93 L418.28,117.59 L418.60,118.25 L418.93,118.91 L419.26,119.57 L419.59,120.23 L419.93,120.89 L420.27,121.54 L420.61,122.19 L420.96,122.84 L421.31,123.49 L421.67,124.13 L422.03,124.77 L422.39,125.41 L422.76,126.05 L423.13,126.69 L423.50,127.33 L423.88,127.96 L424.26,128.60 L424.65,129.23 L425.03,129.86 L425.42,130.48 L425.81,131.11 L426.21,131.73 L426.61,132.35 L427.01,132.97 L427.42,133.58 L427.83,134.19 L428.25,134.79 L428.68,135.40 L429.11,136.00 L429.55,136.59 L429.99,137.18 L430.43,137.77 L430.87,138.37 L431.31,138.96 L431.75,139.56 L432.19,140.16 L432.64,140.75 L433.09,141.34 L433.54,141.93 L434.00,142.52 L434.46,143.10 L434.92,143.68 L435.39,144.25 L435.87,144.81 L436.35,145.36 L436.84,145.90 L437.34,146.43 L437.85,146.95 L438.37,147.46 L438.89,147.96 L439.43,148.45 L439.98,148.94 L440.53,149.43 L441.10,149.90 L441.67,150.38 L442.25,150.84 L442.83,151.30 L443.42,151.75 L444.02,152.20 L444.61,152.65 L445.21,153.08 L445.82,153.52 L446.42,153.94 L447.03,154.37 L447.63,154.78 L448.24,155.19 L448.85,155.60 L449.46,156.01 L450.08,156.41 L450.70,156.80 L451.33,157.20 L451.95,157.58 L452.59,157.97 L453.22,158.35 L453.86,158.72 L454.50,159.09 L455.14,159.46 L455.79,159.82 L456.44,160.18 L457.09,160.53 L457.74,160.88 L458.39,161.23 L459.04,161.56 L459.70,161.90 L460.35,162.23 L461.01,162.55 L461.68,162.87 L462.34,163.19 L463.01,163.51 L463.68,163.82 L464.35,164.12 L465.03,164.42 L465.71,164.72 L466.39,165.01 L467.07,165.29 L467.75,165.58 L468.43,165.85 L469.12,166.12 L469.80,166.39 L470.49,166.65 L471.18,166.91 L471.87,167.16 L472.56,167.41 L473.26,167.66 L473.95,167.91 L474.65,168.15 L475.35,168.39 L476.05,168.62 L476.75,168.86 L477.45,169.09 L478.16,169.31 L478.86,169.54 L479.57,169.75 L480.27,169.97 L480.98,170.18 L481.69,170.39 L482.40,170.60 L483.10,170.80 L483.81,170.99 L484.52,171.19 L485.23,171.38 L485.94,171.57 L486.66,171.75 L487.37,171.93 L488.09,172.11 L488.80,172.29 L489.52,172.46 L490.24,172.64 L490.95,172.81 L491.67,172.97 L492.39,173.14 L493.11,173.30 L493.83,173.46 L494.55,173.62 L495.28,173.78 L496.00,173.94 L496.72,174.09 L497.44,174.24 L498.16,174.39 L498.89,174.54 L499.61,174.68 L500.33,174.83 L501.05,174.97 L501.78,175.11 L502.50,175.25 L503.22,175.39 L503.95,175.53 L504.67,175.67 L505.40,175.81 L506.12,175.94 L506.85,176.07 L507.58,176.21 L508.30,176.34 L509.03,176.46 L509.76,176.59 L510.48,176.71 L511.21,176.83 L511.94,176.95 L512.67,177.07 L513.40,177.18 L514.12,177.29 L514.85,177.40 L515.58,177.50 L516.31,177.60 L517.04,177.70 L517.77,177.80 L518.50,177.89 L519.23,177.99 L519.96,178.08 L520.70,178.17 L521.43,178.26 L522.16,178.35 L522.89,178.44 L523.63,178.53 L524.36,178.61 L525.09,178.70 L525.82,178.78 L526.56,178.86 L527.29,178.94 L528.03,179.01 L528.76,179.09 L529.49,179.16 L530.23,179.23 L530.96,179.30 L531.70,179.37 L532.43,179.43 L533.16,179.50 L533.90,179.56 L534.63,179.62 L535.37,179.68 L536.10,179.73 L536.84,179.79 L537.57,179.84 L538.31,179.89 L539.04,179.94 L539.78,179.99 L540.52,180.03 L541.25,180.08 L541.99,180.12 L542.72,180.17 L543.46,180.21 L544.20,180.26 L544.93,180.30 L545.67,180.34 L546.40,180.38 L547.14,180.43 L547.88,180.47 L548.61,180.52 L549.35,180.56 L550.09,180.61 L550.82,180.65 L551.56,180.70 L552.29,180.75 L553.03,180.80 L553.76,180.85 L554.50,180.90 L555.24,180.95 L555.97,181.00 L556.71,181.05 L557.44,181.09 L558.18,181.13 L558.92,181.16 L559.65,181.19 L560.39,181.21 L561.13,181.23 L561.86,181.26 L562.60,181.28 L563.34,181.30 L564.07,181.32 L564.81,181.34 L565.55,181.35 L566.28,181.37 L567.02,181.39 L567.76,181.41 L568.50,181.42 L569.23,181.44 L569.97,181.45 L570.71,181.46 L571.44,181.48 L572.18,181.49 L572.92,181.50 L573.66,181.51 L574.39,181.53 L575.13,181.54 L575.87,181.55 L576.61,181.56 L577.34,181.57 L578.08,181.58 L578.82,181.59 L579.56,181.59 L580.29,181.60 L581.03,181.61 L581.77,181.62 L582.50,181.63 L583.24,181.64 L583.98,181.65 L584.72,181.65 L585.45,181.66 L586.19,181.67 L586.93,181.68 L587.67,181.68 L588.40,181.69 L589.14,181.69 L589.88,181.70 L590.61,181.70 L591.35,181.70 L592.09,181.70 L592.83,181.70 L593.56,181.69 L594.30,181.68 L595.04,181.67 L595.78,181.65 L596.51,181.64 L597.25,181.63 L597.99,181.62 L598.72,181.61 L599.46,181.60 L600.20,181.59 L600.94,181.58 L601.67,181.56 L602.41,181.55 L603.15,181.54 L603.89,181.53 L604.62,181.52 L605.36,181.50 L606.10,181.49 L606.83,181.48 L607.57,181.46 L608.31,181.45 L609.05,181.43 L609.78,181.42 L610.52,181.40 L611.26,181.38 L611.99,181.37 L612.73,181.35 L613.47,181.33 L614.21,181.31 L614.94,181.30 L615.68,181.28 L616.42,181.26 L617.15,181.23 L617.89,181.21 L618.63,181.19 L619.36,181.16 L620.10,181.13 L620.84,181.10 L621.57,181.07 L622.31,181.04 L623.05,181.00 L623.78,180.97 L624.52,180.93 L625.25,180.89 L625.99,180.85 L626.73,180.81 L627.46,180.77 L628.20,180.73 L628.94,180.69 L629.67,180.65 L630.41,180.60 L631.14,180.56 L631.88,180.52 L632.62,180.47 L633.35,180.43 L634.09,180.39 L634.83,180.34 L635.56,180.30 L636.30,180.25 L637.03,180.21 L637.77,180.17 L638.51,180.12 L639.24,180.08 L639.98,180.03 L640.71,179.98 L641.45,179.94 L642.18,179.89 L642.92,179.84 L643.66,179.79 L644.39,179.74 L645.13,179.69 L645.86,179.64 L646.60,179.59 L647.33,179.53 L648.07,179.48 L648.80,179.43 L649.54,179.38 L650.28,179.32 L651.01,179.27 L651.75,179.21 L652.48,179.16 L653.22,179.10 L653.95,179.05 L654.69,178.99 L655.42,178.93 L656.16,178.88 L656.89,178.82 L657.63,178.76 L658.36,178.70 L659.10,178.64 L659.83,178.57 L660.57,178.51 L661.30,178.45" fill="none" stroke="#7068f8" stroke-width="3.2" stroke-linecap="round" stroke-linejoin="round"/>
<rect x="63.5" y="15.6" width="280.3" height="173.3" fill="none" stroke="#a198ec" stroke-width="1.15"/>
<path d="M70.5,188.9 v-2.2 M70.5,15.6 v2.2 M81.1,188.9 v-1.1 M81.1,15.6 v1.1 M91.8,188.9 v-1.1 M91.8,15.6 v1.1 M102.5,188.9 v-1.1 M102.5,15.6 v1.1 M113.1,188.9 v-1.1 M113.1,15.6 v1.1 M123.8,188.9 v-2.2 M123.8,15.6 v2.2 M134.5,188.9 v-1.1 M134.5,15.6 v1.1 M145.1,188.9 v-1.1 M145.1,15.6 v1.1 M155.8,188.9 v-1.1 M155.8,15.6 v1.1 M166.5,188.9 v-1.1 M166.5,15.6 v1.1 M177.2,188.9 v-2.2 M177.2,15.6 v2.2 M187.8,188.9 v-1.1 M187.8,15.6 v1.1 M198.5,188.9 v-1.1 M198.5,15.6 v1.1 M209.2,188.9 v-1.1 M209.2,15.6 v1.1 M219.8,188.9 v-1.1 M219.8,15.6 v1.1 M230.5,188.9 v-2.2 M230.5,15.6 v2.2 M241.2,188.9 v-1.1 M241.2,15.6 v1.1 M251.8,188.9 v-1.1 M251.8,15.6 v1.1 M262.5,188.9 v-1.1 M262.5,15.6 v1.1 M273.2,188.9 v-1.1 M273.2,15.6 v1.1 M283.9,188.9 v-2.2 M283.9,15.6 v2.2 M294.5,188.9 v-1.1 M294.5,15.6 v1.1 M305.2,188.9 v-1.1 M305.2,15.6 v1.1 M315.9,188.9 v-1.1 M315.9,15.6 v1.1 M326.5,188.9 v-1.1 M326.5,15.6 v1.1 M337.2,188.9 v-2.2 M337.2,15.6 v2.2" stroke="#444" stroke-width="0.6" fill="none"/>
<path d="M63.5,184.1 h1.1 M343.8,184.1 h-1.1 M63.5,178.9 h1.1 M343.8,178.9 h-1.1 M63.5,173.7 h1.1 M343.8,173.7 h-1.1 M63.5,168.5 h2.2 M343.8,168.5 h-2.2 M63.5,163.3 h1.1 M343.8,163.3 h-1.1 M63.5,158.1 h1.1 M343.8,158.1 h-1.1 M63.5,152.9 h1.1 M343.8,152.9 h-1.1 M63.5,147.7 h1.1 M343.8,147.7 h-1.1 M63.5,142.5 h2.2 M343.8,142.5 h-2.2 M63.5,137.3 h1.1 M343.8,137.3 h-1.1 M63.5,132.1 h1.1 M343.8,132.1 h-1.1 M63.5,126.9 h1.1 M343.8,126.9 h-1.1 M63.5,121.7 h1.1 M343.8,121.7 h-1.1 M63.5,116.5 h2.2 M343.8,116.5 h-2.2 M63.5,111.3 h1.1 M343.8,111.3 h-1.1 M63.5,106.1 h1.1 M343.8,106.1 h-1.1 M63.5,100.9 h1.1 M343.8,100.9 h-1.1 M63.5,95.7 h1.1 M343.8,95.7 h-1.1 M63.5,90.5 h2.2 M343.8,90.5 h-2.2 M63.5,85.3 h1.1 M343.8,85.3 h-1.1 M63.5,80.1 h1.1 M343.8,80.1 h-1.1 M63.5,74.9 h1.1 M343.8,74.9 h-1.1 M63.5,69.7 h1.1 M343.8,69.7 h-1.1 M63.5,64.5 h2.2 M343.8,64.5 h-2.2 M63.5,59.3 h1.1 M343.8,59.3 h-1.1 M63.5,54.1 h1.1 M343.8,54.1 h-1.1 M63.5,48.9 h1.1 M343.8,48.9 h-1.1 M63.5,43.7 h1.1 M343.8,43.7 h-1.1 M63.5,38.5 h2.2 M343.8,38.5 h-2.2 M63.5,33.3 h1.1 M343.8,33.3 h-1.1 M63.5,28.1 h1.1 M343.8,28.1 h-1.1 M63.5,22.9 h1.1 M343.8,22.9 h-1.1 M63.5,17.7 h1.1 M343.8,17.7 h-1.1" stroke="#444" stroke-width="0.6" fill="none"/>
<g class="lbl">
<text transform="translate(70.55,207.30) scale(0.870,1)" x="0.96" y="0" text-anchor="middle" style="letter-spacing:1.93px">0</text>
<text transform="translate(123.90,207.30) scale(0.870,1)" x="0.96" y="0" text-anchor="middle" style="letter-spacing:1.93px">10</text>
<text transform="translate(177.25,207.30) scale(0.870,1)" x="0.96" y="0" text-anchor="middle" style="letter-spacing:1.93px">20</text>
<text transform="translate(230.60,207.30) scale(0.870,1)" x="0.96" y="0" text-anchor="middle" style="letter-spacing:1.93px">30</text>
<text transform="translate(283.95,207.30) scale(0.870,1)" x="0.96" y="0" text-anchor="middle" style="letter-spacing:1.93px">40</text>
<text transform="translate(337.30,207.30) scale(0.870,1)" x="0.96" y="0" text-anchor="middle" style="letter-spacing:1.93px">50</text>
<text transform="translate(57.00,173.15) scale(0.870,1)" x="1.93" y="0" text-anchor="end" style="letter-spacing:1.93px">50</text>
<text transform="translate(57.00,147.15) scale(0.870,1)" x="1.93" y="0" text-anchor="end" style="letter-spacing:1.93px">75</text>
<text transform="translate(57.00,121.15) scale(0.870,1)" x="1.93" y="0" text-anchor="end" style="letter-spacing:1.93px">100</text>
<text transform="translate(57.00,95.15) scale(0.870,1)" x="1.93" y="0" text-anchor="end" style="letter-spacing:1.93px">125</text>
<text transform="translate(57.00,69.15) scale(0.870,1)" x="1.93" y="0" text-anchor="end" style="letter-spacing:1.93px">150</text>
<text transform="translate(57.00,43.15) scale(0.870,1)" x="1.93" y="0" text-anchor="end" style="letter-spacing:1.93px">175</text>
</g>
<rect x="69.19" y="199.99" width="2.7" height="3.6" rx="0.5" fill="#fff"/>
<rect x="127.56" y="199.99" width="2.7" height="3.6" rx="0.5" fill="#fff"/>
<rect x="180.91" y="199.99" width="2.7" height="3.6" rx="0.5" fill="#fff"/>
<rect x="234.26" y="199.99" width="2.7" height="3.6" rx="0.5" fill="#fff"/>
<rect x="287.61" y="199.99" width="2.7" height="3.6" rx="0.5" fill="#fff"/>
<rect x="340.96" y="199.99" width="2.7" height="3.6" rx="0.5" fill="#fff"/>
<rect x="51.47" y="165.84" width="2.7" height="3.6" rx="0.5" fill="#fff"/>
<rect x="41.44" y="113.84" width="2.7" height="3.6" rx="0.5" fill="#fff"/>
<rect x="51.47" y="113.84" width="2.7" height="3.6" rx="0.5" fill="#fff"/>
<rect x="51.47" y="61.84" width="2.7" height="3.6" rx="0.5" fill="#fff"/>
<rect x="388.1" y="16.6" width="280.3" height="173.0" fill="none" stroke="#a198ec" stroke-width="1.15"/>
<path d="M394.5,189.6 v-2.2 M394.5,16.6 v2.2 M405.2,189.6 v-1.1 M405.2,16.6 v1.1 M415.8,189.6 v-1.1 M415.8,16.6 v1.1 M426.5,189.6 v-1.1 M426.5,16.6 v1.1 M437.2,189.6 v-1.1 M437.2,16.6 v1.1 M447.9,189.6 v-2.2 M447.9,16.6 v2.2 M458.5,189.6 v-1.1 M458.5,16.6 v1.1 M469.2,189.6 v-1.1 M469.2,16.6 v1.1 M479.9,189.6 v-1.1 M479.9,16.6 v1.1 M490.6,189.6 v-1.1 M490.6,16.6 v1.1 M501.2,189.6 v-2.2 M501.2,16.6 v2.2 M511.9,189.6 v-1.1 M511.9,16.6 v1.1 M522.6,189.6 v-1.1 M522.6,16.6 v1.1 M533.3,189.6 v-1.1 M533.3,16.6 v1.1 M543.9,189.6 v-1.1 M543.9,16.6 v1.1 M554.6,189.6 v-2.2 M554.6,16.6 v2.2 M565.3,189.6 v-1.1 M565.3,16.6 v1.1 M576.0,189.6 v-1.1 M576.0,16.6 v1.1 M586.6,189.6 v-1.1 M586.6,16.6 v1.1 M597.3,189.6 v-1.1 M597.3,16.6 v1.1 M608.0,189.6 v-2.2 M608.0,16.6 v2.2 M618.7,189.6 v-1.1 M618.7,16.6 v1.1 M629.3,189.6 v-1.1 M629.3,16.6 v1.1 M640.0,189.6 v-1.1 M640.0,16.6 v1.1 M650.7,189.6 v-1.1 M650.7,16.6 v1.1 M661.3,189.6 v-2.2 M661.3,16.6 v2.2" stroke="#444" stroke-width="0.6" fill="none"/>
<path d="M388.1,185.2 h2.2 M668.4,185.2 h-2.2 M388.1,177.2 h1.1 M668.4,177.2 h-1.1 M388.1,169.2 h1.1 M668.4,169.2 h-1.1 M388.1,161.2 h1.1 M668.4,161.2 h-1.1 M388.1,153.2 h2.2 M668.4,153.2 h-2.2 M388.1,145.2 h1.1 M668.4,145.2 h-1.1 M388.1,137.2 h1.1 M668.4,137.2 h-1.1 M388.1,129.2 h1.1 M668.4,129.2 h-1.1 M388.1,121.2 h2.2 M668.4,121.2 h-2.2 M388.1,113.2 h1.1 M668.4,113.2 h-1.1 M388.1,105.1 h1.1 M668.4,105.1 h-1.1 M388.1,97.1 h1.1 M668.4,97.1 h-1.1 M388.1,89.1 h2.2 M668.4,89.1 h-2.2 M388.1,81.1 h1.1 M668.4,81.1 h-1.1 M388.1,73.1 h1.1 M668.4,73.1 h-1.1 M388.1,65.1 h1.1 M668.4,65.1 h-1.1 M388.1,57.1 h2.2 M668.4,57.1 h-2.2 M388.1,49.1 h1.1 M668.4,49.1 h-1.1 M388.1,41.1 h1.1 M668.4,41.1 h-1.1 M388.1,33.1 h1.1 M668.4,33.1 h-1.1 M388.1,25.1 h2.2 M668.4,25.1 h-2.2" stroke="#444" stroke-width="0.6" fill="none"/>
<g class="lbl">
<text transform="translate(395.10,207.50) scale(0.870,1)" x="0.96" y="0" text-anchor="middle" style="letter-spacing:1.93px">0</text>
<text transform="translate(448.47,207.50) scale(0.870,1)" x="0.96" y="0" text-anchor="middle" style="letter-spacing:1.93px">10</text>
<text transform="translate(501.84,207.50) scale(0.870,1)" x="0.96" y="0" text-anchor="middle" style="letter-spacing:1.93px">20</text>
<text transform="translate(555.21,207.50) scale(0.870,1)" x="0.96" y="0" text-anchor="middle" style="letter-spacing:1.93px">30</text>
<text transform="translate(608.58,207.50) scale(0.870,1)" x="0.96" y="0" text-anchor="middle" style="letter-spacing:1.93px">40</text>
<text transform="translate(661.95,207.50) scale(0.870,1)" x="0.96" y="0" text-anchor="middle" style="letter-spacing:1.93px">50</text>
<text transform="translate(380.70,189.30) scale(0.870,1)" x="1.93" y="0" text-anchor="end" style="letter-spacing:1.93px">0</text>
<text transform="translate(380.70,158.08) scale(0.870,1)" x="1.93" y="0" text-anchor="end" style="letter-spacing:1.93px">20</text>
<text transform="translate(380.70,126.06) scale(0.870,1)" x="1.93" y="0" text-anchor="end" style="letter-spacing:1.93px">40</text>
<text transform="translate(380.70,94.04) scale(0.870,1)" x="1.93" y="0" text-anchor="end" style="letter-spacing:1.93px">60</text>
<text transform="translate(380.70,62.02) scale(0.870,1)" x="1.93" y="0" text-anchor="end" style="letter-spacing:1.93px">80</text>
<text transform="translate(380.70,30.00) scale(0.870,1)" x="1.93" y="0" text-anchor="end" style="letter-spacing:1.93px">100</text>
</g>
<rect x="393.74" y="200.19" width="2.7" height="3.6" rx="0.5" fill="#fff"/>
<rect x="452.13" y="200.19" width="2.7" height="3.6" rx="0.5" fill="#fff"/>
<rect x="505.50" y="200.19" width="2.7" height="3.6" rx="0.5" fill="#fff"/>
<rect x="558.87" y="200.19" width="2.7" height="3.6" rx="0.5" fill="#fff"/>
<rect x="612.24" y="200.19" width="2.7" height="3.6" rx="0.5" fill="#fff"/>
<rect x="665.61" y="200.19" width="2.7" height="3.6" rx="0.5" fill="#fff"/>
<rect x="375.17" y="181.99" width="2.7" height="3.6" rx="0.5" fill="#fff"/>
<rect x="375.17" y="150.77" width="2.7" height="3.6" rx="0.5" fill="#fff"/>
<rect x="375.17" y="118.75" width="2.7" height="3.6" rx="0.5" fill="#fff"/>
<rect x="375.17" y="86.73" width="2.7" height="3.6" rx="0.5" fill="#fff"/>
<rect x="375.17" y="54.71" width="2.7" height="3.6" rx="0.5" fill="#fff"/>
<rect x="365.14" y="22.69" width="2.7" height="3.6" rx="0.5" fill="#fff"/>
<rect x="375.17" y="22.69" width="2.7" height="3.6" rx="0.5" fill="#fff"/>
<rect x="108.8" y="216.5" width="158.0" height="65" fill="#000"/>
<rect x="106.2" y="220.3" width="157.2" height="64.7" fill="#fff" stroke="#707070" stroke-width="1"/>
<path d="M124.1,232.3 H151.7" stroke="#e08585" stroke-width="1" stroke-dasharray="0.8 5.3 8.1 5.8 0.8 5.9 0.8 100" fill="none"/>
<path d="M124.1,252.3 H151.7" stroke="#55b855" stroke-width="1" stroke-dasharray="5.9 5.5" fill="none"/>
<path d="M124.1,273.1 H151.7" stroke="#b4b4fa" stroke-width="0.9" fill="none"/>
<rect x="433.5" y="216.5" width="175.3" height="65" fill="#000"/>
<rect x="430.4" y="220.3" width="175.1" height="64.7" fill="#fff" stroke="#707070" stroke-width="1"/>
<path d="M451.9,232.3 H479.5" stroke="#e08585" stroke-width="1" stroke-dasharray="0.8 5.3 8.1 5.8 0.8 5.9 0.8 100" fill="none"/>
<path d="M451.9,252.3 H479.5" stroke="#55b855" stroke-width="1" stroke-dasharray="5.9 5.5" fill="none"/>
<path d="M451.9,273.1 H479.5" stroke="#b4b4fa" stroke-width="0.9" fill="none"/>
</svg></body></html>
